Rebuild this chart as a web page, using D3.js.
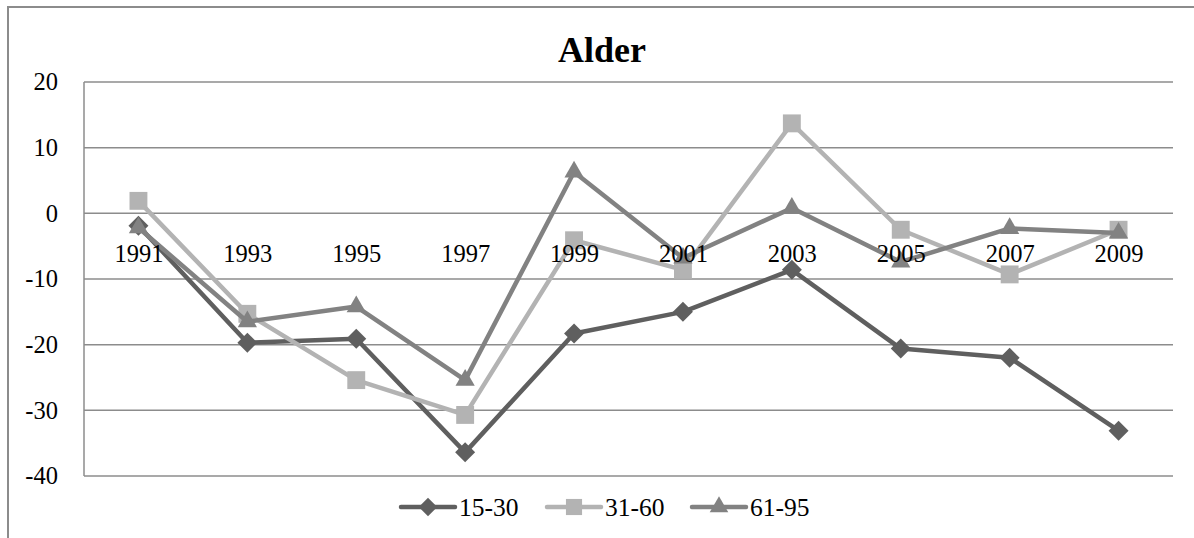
<!DOCTYPE html>
<html>
<head>
<meta charset="utf-8">
<script src="https://cdn.jsdelivr.net/npm/d3@7"></script>
<style>
  body { margin: 0; background: #fff; }
  text { font-family: "Liberation Serif", "Times New Roman", serif; }
</style>
</head>
<body>
<div id="chart"></div>
<script>
const years = ['1991', '1993', '1995', '1997', '1999', '2001', '2003', '2005', '2007', '2009'];
const age15to30 = [-1.9, -19.7, -19.1, -36.4, -18.3, -15.0, -8.6, -20.6, -22.0, -33.1];
const age31to60 = [1.9, -15.3, -25.4, -30.7, -4.1, -8.6, 13.7, -2.5, -9.3, -2.5];
const age61to95 = [-2.2, -16.5, -14.2, -25.4, 6.3, -6.8, 0.8, -7.4, -2.3, -3.0];
const yTicks = [20, 10, 0, -10, -20, -30, -40];

const series = [
  { label: '15-30', values: age15to30, color: '#5f5f5f', symbol: 'diamond' },
  { label: '31-60', values: age31to60, color: '#b3b3b3', symbol: 'square' },
  { label: '61-95', values: age61to95, color: '#828282', symbol: 'triangle' }
];

const width = 1194, height = 538;
const plotLeft = 84, plotRight = 1173, plotTop = 82, plotBottom = 476;

const svg = d3.select('#chart')
  .append('svg')
  .attr('width', width)
  .attr('height', height);

// chart frame
svg.append('rect')
  .attr('x', 8).attr('y', 7)
  .attr('width', 1200).attr('height', 600)
  .attr('fill', 'none')
  .attr('stroke', '#8c8c8c')
  .attr('stroke-width', 2);

const x = d3.scalePoint().domain(years).range([plotLeft, plotRight]).padding(0.5);
const y = d3.scaleLinear().domain([-40, 20]).range([plotBottom, plotTop]);

// gridlines
svg.append('g')
  .selectAll('line')
  .data(yTicks)
  .enter()
  .append('line')
  .attr('x1', plotLeft).attr('x2', plotRight)
  .attr('y1', d => y(d)).attr('y2', d => y(d))
  .attr('stroke', '#8c8c8c')
  .attr('stroke-width', 1.5);

svg.append('line')
  .attr('x1', plotLeft).attr('x2', plotLeft)
  .attr('y1', plotTop).attr('y2', plotBottom)
  .attr('stroke', '#8c8c8c')
  .attr('stroke-width', 1.5);

// y axis labels
const yAxis = svg.append('g')
  .attr('transform', 'translate(' + (plotLeft - 26) + ',0)')
  .call(d3.axisLeft(y).tickValues(yTicks).tickSize(0).tickPadding(0).tickFormat(d => String(d)));
yAxis.select('.domain').remove();
yAxis.selectAll('text')
  .attr('font-size', 24.5)
  .attr('font-family', '"Liberation Serif", serif')
  .attr('fill', '#000');

const symbolFor = {
  diamond: d3.symbol().type(d3.symbolSquare).size(200),
  square: d3.symbol().type(d3.symbolSquare).size(320),
  triangle: d3.symbol().type(d3.symbolTriangle).size(160)
};

let line = d3.line()
  .x((d, i) => x(years[i]))
  .y(d => y(d));

series.forEach(s => {
  svg.append('path')
    .attr('d', line(s.values))
    .attr('fill', 'none')
    .attr('stroke', s.color)
    .attr('stroke-width', 4.5)
    .attr('stroke-linejoin', 'round');

  svg.append('g')
    .selectAll('path')
    .data(s.values)
    .enter()
    .append('path')
    .attr('d', symbolFor[s.symbol]())
    .attr('transform', (d, i) => 'translate(' + x(years[i]) + ',' + y(d) + ')' +
      (s.symbol === 'diamond' ? ' rotate(45)' : ''))
    .attr('fill', s.color);
});

// category labels along the zero line
const xAxis = svg.append('g')
  .attr('transform', 'translate(0,' + y(0) + ')')
  .call(d3.axisBottom(x).tickSize(0).tickPadding(31));
xAxis.select('.domain').remove();
xAxis.selectAll('text')
  .attr('font-size', 24.5)
  .attr('font-family', '"Liberation Serif", serif')
  .attr('fill', '#000');

// title
svg.append('text')
  .attr('x', 602)
  .attr('y', 62)
  .attr('text-anchor', 'middle')
  .attr('font-size', 36)
  .attr('font-weight', 'bold')
  .text('Alder');

// legend
const legendX = [401, 547, 692];
const legend = svg.append('g');
series.forEach((s, i) => {
  const g = legend.append('g').attr('transform', 'translate(' + legendX[i] + ',507)');
  g.append('line')
    .attr('x1', 0).attr('x2', 54)
    .attr('stroke', s.color)
    .attr('stroke-width', 4.5)
    .attr('stroke-linecap', 'round');
  g.append('path')
    .attr('d', d3.symbol().type(s.symbol === 'triangle' ? d3.symbolTriangle : d3.symbolSquare)
      .size(s.symbol === 'square' ? 260 : s.symbol === 'diamond' ? 170 : 150)())
    .attr('transform', 'translate(27,0)' + (s.symbol === 'diamond' ? ' rotate(45)' : ''))
    .attr('fill', s.color);
  g.append('text')
    .attr('x', 58)
    .attr('y', 0)
    .attr('dy', '0.35em')
    .attr('font-size', 25.5)
    .text(s.label);
});
</script>
</body>
</html>
